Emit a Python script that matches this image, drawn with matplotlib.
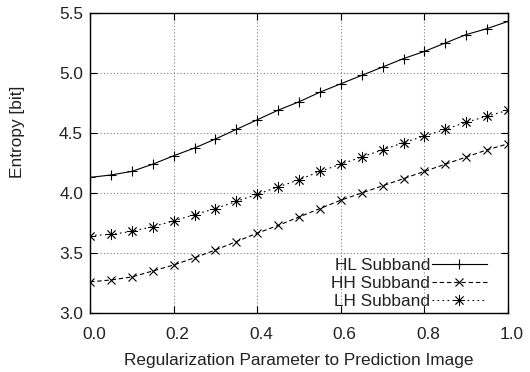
import matplotlib
matplotlib.use("Agg")
import matplotlib.pyplot as plt
import matplotlib.transforms as mtransforms

plt.rcParams['font.family'] = ['Liberation Sans', 'DejaVu Sans']

x = [0.0, 0.05, 0.1, 0.15, 0.2, 0.25, 0.3, 0.35, 0.4, 0.45, 0.5,
     0.55, 0.6, 0.65, 0.7, 0.75, 0.8, 0.85, 0.9, 0.95, 1.0]
hl = [4.13, 4.15, 4.18, 4.24, 4.31, 4.375, 4.45, 4.53, 4.61, 4.69, 4.76,
      4.84, 4.91, 4.98, 5.05, 5.12, 5.18, 5.25, 5.32, 5.37, 5.43]
hh = [3.26, 3.275, 3.30, 3.35, 3.40, 3.46, 3.525, 3.595, 3.665, 3.73, 3.80,
      3.87, 3.94, 4.00, 4.06, 4.12, 4.18, 4.24, 4.30, 4.36, 4.41]
lh = [3.645, 3.655, 3.68, 3.72, 3.767, 3.82, 3.87, 3.93, 3.99, 4.05, 4.11,
      4.18, 4.24, 4.30, 4.36, 4.42, 4.475, 4.53, 4.59, 4.64, 4.69]
labels = ["HL Subband", "HH Subband", "LH Subband"]
xticks = [0.0, 0.2, 0.4, 0.6, 0.8, 1.0]
yticks = [3.0, 3.5, 4.0, 4.5, 5.0, 5.5]

W, H = 530, 372
fig = plt.figure(figsize=(W / 100, H / 100), dpi=100)
ax = fig.add_axes([90 / W, 1 - 313 / H, (508 - 90) / W, (313 - 13) / H])

fs = 12.4
tc = '#222222'
ax.plot(x, hl, color='black', lw=0.8, marker='+', ms=7, mew=0.8,
        linestyle='-', label=labels[0])
ax.plot(x, hh, color='black', lw=0.8, marker='x', ms=6, mew=0.8,
        linestyle=(0, (4, 2.5)), label=labels[1])
ax.plot(x, lh, color='black', lw=0.8, marker=(8, 2, 0), ms=8, mew=0.6,
        linestyle=(0, (1.5, 3)), label=labels[2])

ax.set_xlim(0, 1)
ax.set_ylim(3.0, 5.5)
ax.set_xticks(xticks)
ax.set_yticks(yticks)
ax.set_xticklabels([f"{v:.1f}" for v in xticks])
ax.set_yticklabels([f"{v:.1f}" for v in yticks])
ax.grid(True, color='#808080', linestyle=(0, (1, 2)), linewidth=0.8)
ax.tick_params(direction='in', top=True, right=True, length=5, width=0.8,
               labelsize=fs, labelcolor=tc)
ax.tick_params(axis='x', pad=10)
ax.tick_params(axis='y', pad=5)
for sp in ax.spines.values():
    sp.set_linewidth(1.0)

off = mtransforms.ScaledTranslation(4 / 100, 0, fig.dpi_scale_trans)
for lab in ax.get_xticklabels():
    lab.set_transform(lab.get_transform() + off)

ax.set_xlabel("Regularization Parameter to Prediction Image", fontsize=fs,
              labelpad=8, color=tc)
fig.text(18 / W, 1 - 132 / H, "Entropy [bit]", rotation=90, fontsize=fs,
         ha='center', va='center', color=tc)

leg = ax.legend(loc='lower right', bbox_to_anchor=(487 / W, 1 - 309 / H),
                bbox_transform=fig.transFigure, frameon=False, markerfirst=False,
                fontsize=fs, handlelength=3.2, handletextpad=0.1,
                labelspacing=0.17, borderpad=0, borderaxespad=0)
for t in leg.get_texts():
    t.set_color(tc)

fig.savefig("out.png", dpi=100)
